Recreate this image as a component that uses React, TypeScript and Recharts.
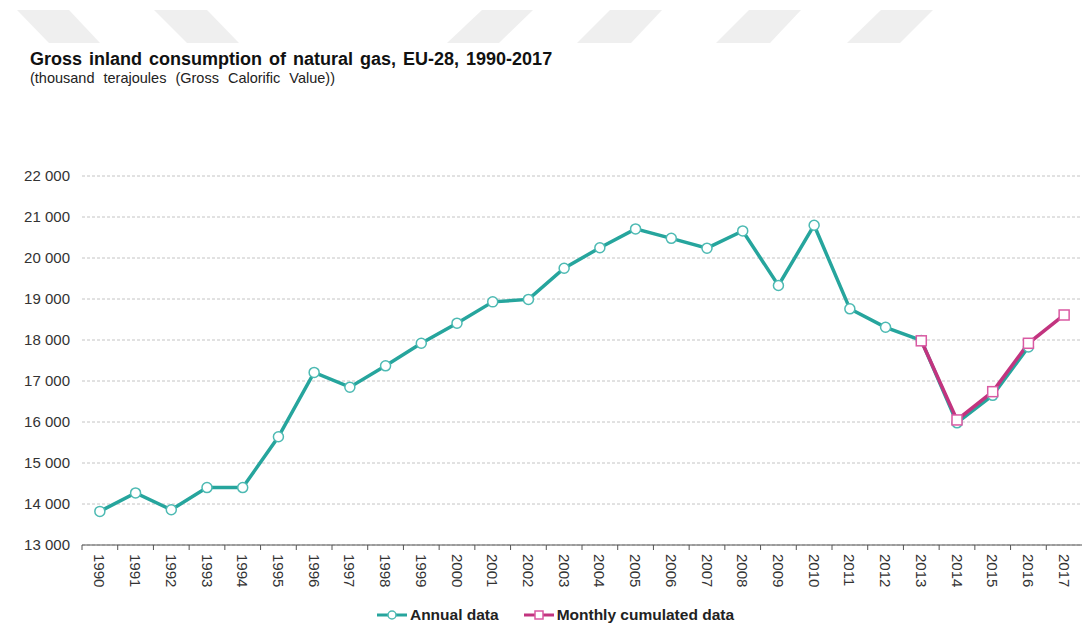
// Gross inland consumption of natural gas, EU-28, 1990-2017 (Recharts LineChart)
// Teal annual series with open circles, magenta monthly-cumulated series with open squares

import { LineChart, Line, XAxis, YAxis, CartesianGrid, Legend } from 'recharts';

const years = [
  '1990', '1991', '1992', '1993', '1994', '1995', '1996', '1997', '1998', '1999',
  '2000', '2001', '2002', '2003', '2004', '2005', '2006', '2007', '2008', '2009',
  '2010', '2011', '2012', '2013', '2014', '2015', '2016', '2017',
];

const annualData = [
  13820, 14270, 13860, 14400, 14400, 15640, 17210, 16850, 17370, 17920,
  18410, 18930, 18990, 19750, 20250, 20710, 20480, 20240, 20660, 19330,
  20800, 18760, 18310, 17990, 15980, 16650, 17830, null,
];

const monthlyData = [
  null, null, null, null, null, null, null, null, null, null,
  null, null, null, null, null, null, null, null, null, null,
  null, null, null, 17980, 16050, 16740, 17920, 18610,
];

const yTicks = [13000, 14000, 15000, 16000, 17000, 18000, 19000, 20000, 21000, 22000];

const TEAL = '#26A59D';
const TEAL_DOT = '#4DBAB3';
const PINK = '#C2347F';
const PINK_DOT = '#DA5AA3';
const FONT = '"Liberation Sans", Arial, sans-serif';

const chartData = years.map((year, i) => ({
  year,
  annual: annualData[i],
  monthly: monthlyData[i],
}));

// the grey slanted stripes across the top of the page
const stripes = [
  [17, 69, 100, 49],
  [154, 207, 239, 187],
  [482, 533, 499, 447],
  [610, 662, 631, 577],
  [749, 801, 770, 716],
  [881, 933, 900, 847],
];

function formatThousands(v: number): string {
  return String(v).replace(/\B(?=(\d{3})+(?!\d))/g, ' ');
}

function YearTick({ x, y, payload }: any) {
  const half = payload?.offset ?? 1000 / 28 / 2;
  return (
    <g>
      <line x1={x - half} x2={x - half} y1={y - 9} y2={y - 4} stroke="#555" strokeWidth={1} />
      <text
        x={x}
        y={y}
        dy="0.36em"
        transform={`rotate(90, ${x}, ${y})`}
        textAnchor="start"
        fontSize={15}
        fontFamily={FONT}
        fill="#333"
      >
        {payload.value}
      </text>
    </g>
  );
}

function CircleDot({ cx, cy, value }: any) {
  if (value == null || cx == null || cy == null) return null;
  return <circle cx={cx} cy={cy} r={5} fill="#fff" stroke={TEAL_DOT} strokeWidth={1.5} />;
}

function SquareDot({ cx, cy, value }: any) {
  if (value == null || cx == null || cy == null) return null;
  return <rect x={cx - 5} y={cy - 5} width={10} height={10} fill="#fff" stroke={PINK_DOT} strokeWidth={1.5} />;
}

function LegendContent() {
  const items = [
    { label: 'Annual data', color: TEAL, marker: 'circle' },
    { label: 'Monthly cumulated data', color: PINK, marker: 'square' },
  ];
  return (
    <div
      style={{
        height: 35,
        display: 'flex',
        justifyContent: 'center',
        gap: 24,
        paddingTop: 15,
        paddingLeft: 28,
        boxSizing: 'border-box',
      }}
    >
      {items.map((item) => (
        <div key={item.label} style={{ display: 'flex', alignItems: 'center', height: 20 }}>
          <svg width={32} height={12}>
            <line x1={1} x2={31} y1={6} y2={6} stroke={item.color} strokeWidth={3} />
            {item.marker === 'circle' ? (
              <circle cx={16} cy={6} r={4} fill="#fff" stroke={TEAL_DOT} strokeWidth={1.5} />
            ) : (
              <rect x={12} y={2} width={8} height={8} fill="#fff" stroke={PINK_DOT} strokeWidth={1.5} />
            )}
          </svg>
          <span style={{ fontFamily: FONT, fontSize: 15.5, fontWeight: 700, color: '#222', marginLeft: 2 }}>
            {item.label}
          </span>
        </div>
      ))}
    </div>
  );
}

export default function App() {
  return (
    <div style={{ position: 'absolute', left: 0, top: 0, width: 1082, height: 625, background: '#fff', overflow: 'hidden' }}>
      <svg width={1082} height={50} style={{ position: 'absolute', left: 0, top: 0 }}>
        {stripes.map((s, i) => (
          <polygon key={i} points={`${s[0]},10 ${s[1]},10 ${s[2]},43 ${s[3]},43`} fill="#EFEFEF" />
        ))}
      </svg>
      <div style={{ position: 'absolute', left: 30, top: 49, fontFamily: FONT, color: '#111' }}>
        <div style={{ fontSize: 18, fontWeight: 700, lineHeight: '21px', wordSpacing: 2 }}>
          Gross inland consumption of natural gas, EU-28, 1990-2017
        </div>
        <div style={{ fontSize: 14.5, lineHeight: '16px', color: '#222', wordSpacing: 5 }}>
          (thousand terajoules (Gross Calorific Value))
        </div>
      </div>
      <LineChart
        width={1082}
        height={625}
        data={chartData}
        margin={{ top: 176, right: 0, left: 0, bottom: 0 }}
        style={{ position: 'absolute', left: 0, top: 0 }}
      >
        <CartesianGrid vertical={false} stroke="#C4C4C4" strokeDasharray="3 2" />
        <XAxis
          dataKey="year"
          scale="band"
          height={45}
          axisLine={{ stroke: '#555', strokeWidth: 1 }}
          tickLine={false}
          tickSize={0}
          tickMargin={9}
          tick={<YearTick />}
          interval={0}
        />
        <YAxis
          width={82}
          domain={[13000, 22000]}
          ticks={yTicks}
          axisLine={false}
          tickLine={false}
          tickSize={0}
          tickMargin={12}
          tickFormatter={formatThousands}
          tick={{ fontSize: 15, fill: '#333', fontFamily: FONT }}
        />
        <Legend verticalAlign="bottom" height={35} content={<LegendContent />} />
        <Line
          dataKey="annual"
          stroke={TEAL}
          strokeWidth={3.5}
          dot={<CircleDot />}
          activeDot={false}
          connectNulls={false}
          isAnimationActive={false}
        />
        <Line
          dataKey="monthly"
          stroke={PINK}
          strokeWidth={3.5}
          dot={<SquareDot />}
          activeDot={false}
          connectNulls={false}
          isAnimationActive={false}
        />
      </LineChart>
    </div>
  );
}
